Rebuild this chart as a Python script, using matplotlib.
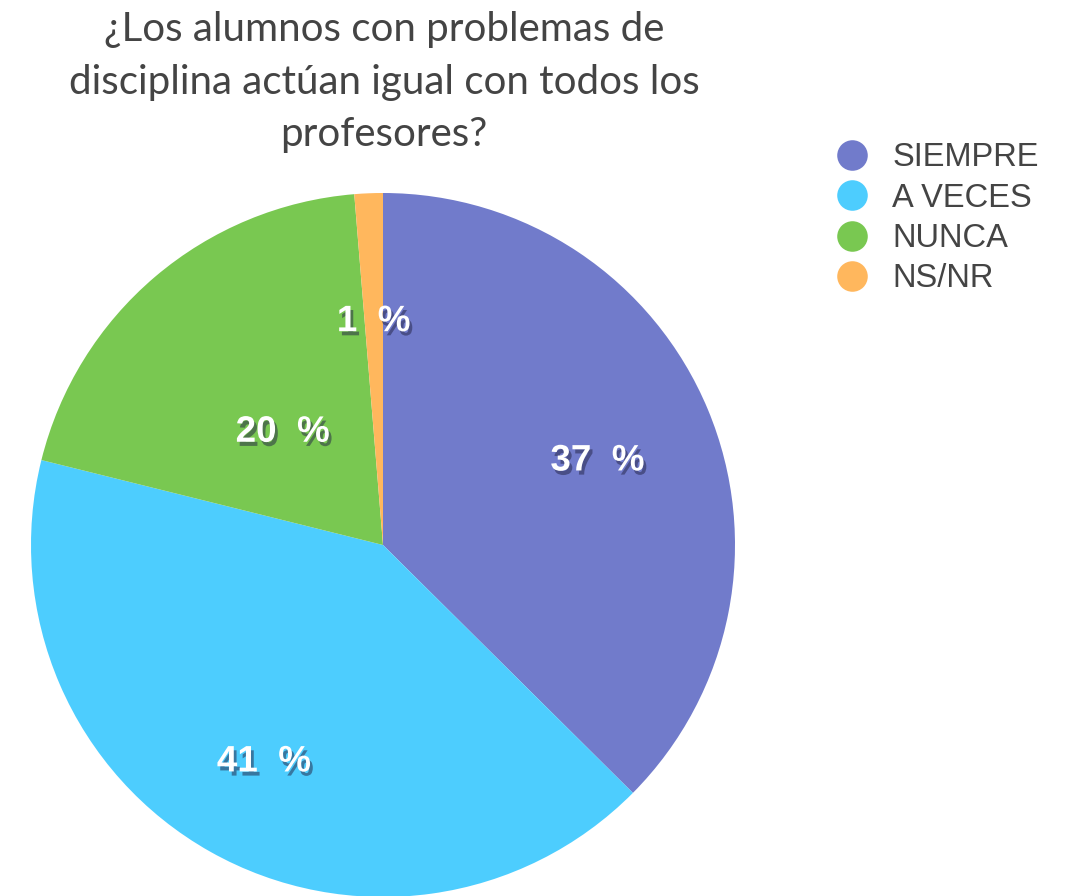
import numpy as np
import matplotlib
matplotlib.use("Agg")
import matplotlib.pyplot as plt
import matplotlib.patheffects as pe
from matplotlib.lines import Line2D

# chart data
categories = ["SIEMPRE", "A VECES", "NUNCA", "NS/NR"]
values = [37.4, 41.4, 19.8, 1.3]
colors = ["#717bcb", "#4dcdfe", "#79c851", "#ffb75d"]
label_dist = [0.66, 0.69, 0.44, 0.65]
title = "¿Los alumnos con problemas de\ndisciplina actúan igual con todos los\nprofesores?"

fig = plt.figure(figsize=(10.69, 8.96), dpi=100)
ax = fig.add_axes([31 / 1069, -1 / 896, 704 / 1069, 704 / 896])

wedges, _ = ax.pie(values, colors=colors, startangle=90, counterclock=False,
                   radius=1.0, wedgeprops=dict(linewidth=0))
ax.set_xlim(-1, 1)
ax.set_ylim(-1, 1)
ax.axis("off")

shadow = [pe.SimplePatchShadow(offset=(2, -3), shadow_rgbFace="#222244", alpha=0.5),
          pe.Normal()]
for w, v, d in zip(wedges, values, label_dist):
    ang = np.deg2rad((w.theta1 + w.theta2) / 2)
    ax.text(d * np.cos(ang), d * np.sin(ang) - 0.015, "%d  %%" % round(v),
            ha="center", va="center", color="white", fontsize=26.5,
            fontweight="bold", family="Liberation Sans", path_effects=shadow)

fig.text(384 / 1069, 1 - 11 / 896, title, ha="center", va="top",
         fontsize=29, family="Lato", color="#444444", linespacing=1.52)

handles = [Line2D([], [], marker="o", linestyle="none", markersize=22,
                  markerfacecolor=c, markeredgewidth=0) for c in colors]
fig.legend(handles, categories, loc="upper left",
           bbox_to_anchor=(806 / 1069, 1 - 129 / 896), frameon=False,
           prop=dict(family="Liberation Sans", size=23.5), labelcolor="#444444",
           handletextpad=0.25, labelspacing=0.29, borderaxespad=0)

fig.savefig("out.png", dpi=100)
